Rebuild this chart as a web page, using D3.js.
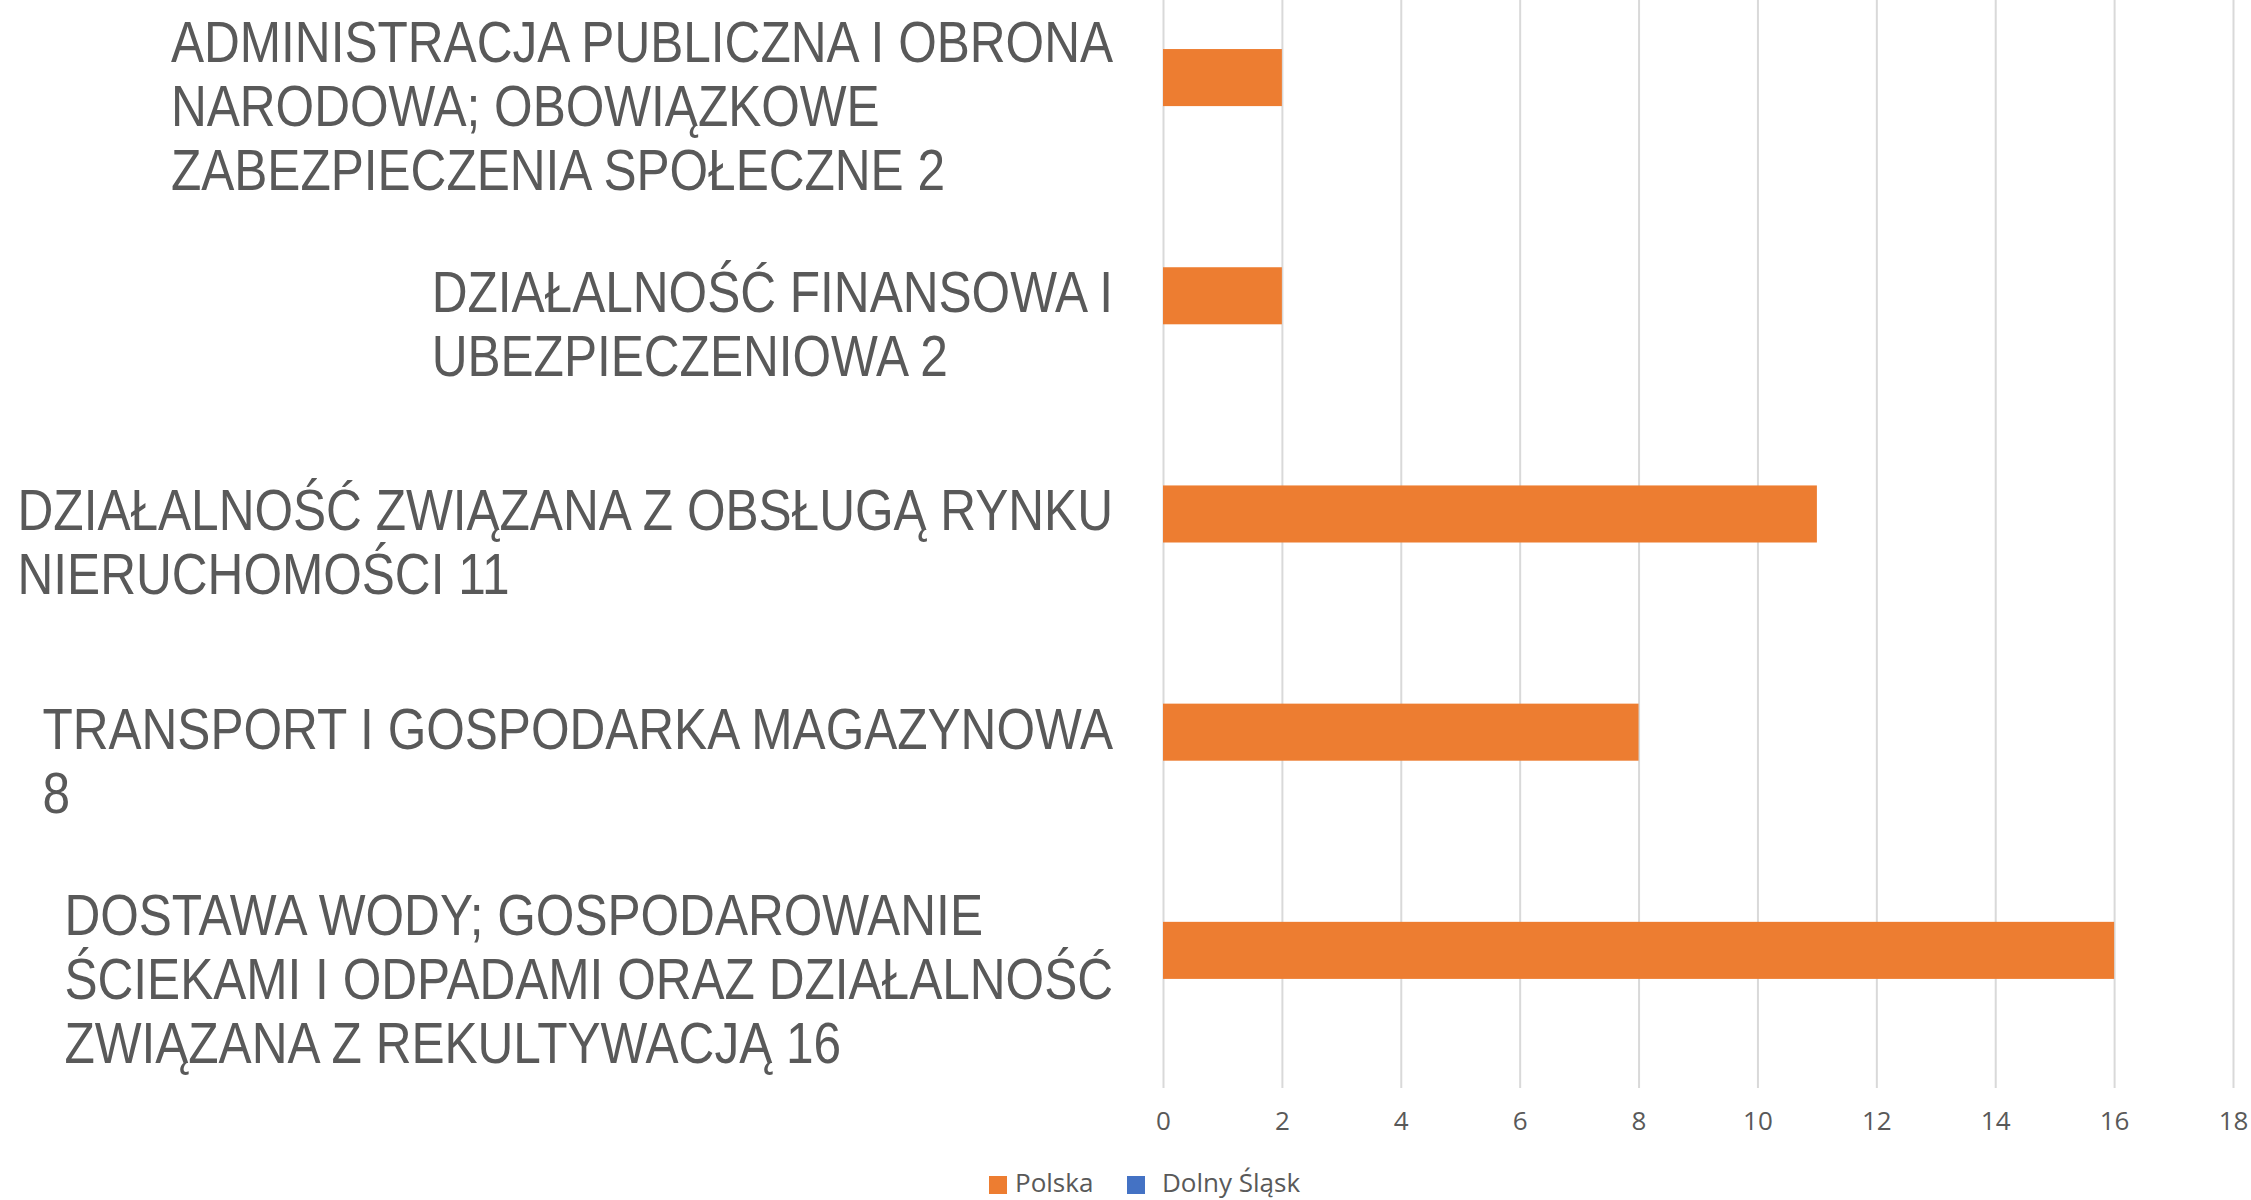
<!DOCTYPE html>
<html>
<head>
  <meta charset="utf-8">
  <title>BarChart</title>
  <script src="https://cdn.jsdelivr.net/npm/d3@7"></script>
  <style>
    body { margin: 0; background: #fff; }
  </style>
</head>
<body>
  <svg width="2251" height="1200" id="mainsvg"></svg>
  <script>
    const svg = d3.select('#mainsvg');

    // categories, top to bottom, as wrapped in the original
    const categories = [
      ['ADMINISTRACJA PUBLICZNA I OBRONA', 'NARODOWA; OBOWIĄZKOWE', 'ZABEZPIECZENIA SPOŁECZNE 2'],
      ['DZIAŁALNOŚĆ FINANSOWA I', 'UBEZPIECZENIOWA 2'],
      ['DZIAŁALNOŚĆ ZWIĄZANA Z OBSŁUGĄ RYNKU', 'NIERUCHOMOŚCI 11'],
      ['TRANSPORT I GOSPODARKA MAGAZYNOWA', '8'],
      ['DOSTAWA WODY; GOSPODAROWANIE', 'ŚCIEKAMI I ODPADAMI ORAZ DZIAŁALNOŚĆ', 'ZWIĄZANA Z REKULTYWACJĄ 16']
    ];
    const seriesNames = ['Polska', 'Dolny Śląsk'];
    const polska = [2, 2, 11, 8, 16];
    const dolnySlask = [0, 0, 0, 0, 0];
    const xTicks = [0, 2, 4, 6, 8, 10, 12, 14, 16, 18];
    const colors = ['#ED7D31', '#4472C4'];

    const plot = { left: 1163, right: 2233, top: -3, bottom: 1088 };
    const textColor = '#595959';

    const catIdx = d3.range(categories.length);
    const values = [polska, dolnySlask];

    const x = d3.scaleLinear().domain([0, 18]).range([plot.left, plot.right]);
    const y = d3.scaleBand().domain(catIdx).range([plot.top, plot.bottom])
      .paddingInner(0.477).paddingOuter(0.2385);
    const ySub = d3.scaleBand().domain(d3.range(seriesNames.length)).range([0, y.bandwidth()]);

    // gridlines + tick labels
    const axis = svg.append('g')
      .attr('transform', `translate(0,${plot.bottom})`)
      .call(d3.axisBottom(x).tickValues(xTicks).tickSize(-(plot.bottom - plot.top)).tickFormat(d3.format('d')));
    axis.select('.domain').remove();
    axis.selectAll('.tick line').attr('stroke', '#d9d9d9').attr('stroke-width', 2);
    axis.selectAll('.tick text')
      .attr('y', 33).attr('dy', '0.35em')
      .attr('fill', textColor)
      .style('font-family', '"Open Sans", sans-serif')
      .style('font-size', '26px');

    // bars
    svg.append('g').selectAll('g').data(values).join('g')
      .attr('fill', (d, i) => colors[i])
      .each(function (vals, s) {
        d3.select(this).selectAll('rect').data(vals).join('rect')
          .attr('x', x(0))
          .attr('y', (d, i) => y(i) + ySub(s))
          .attr('width', d => x(d) - x(0))
          .attr('height', ySub.bandwidth());
      });

    // category labels: block right aligned, lines left aligned, narrow face
    const lineH = 64;
    const labelRight = 1113;
    const narrow = 0.87;
    categories.forEach((lines, i) => {
      const cy = y(i) + y.bandwidth() / 2;
      const g = svg.append('g').attr('transform', `translate(${labelRight},0) scale(${narrow},1)`);
      const t = g.selectAll('text').data(lines).join('text')
        .attr('y', (d, k) => cy + (k - (lines.length - 1) / 2) * lineH + 20)
        .attr('fill', textColor)
        .style('font-family', '"Liberation Sans", Arial, sans-serif')
        .style('font-size', '57px')
        .text(d => d);
      let w = 0;
      t.each(function () { w = Math.max(w, this.getComputedTextLength()); });
      t.attr('x', -w);
    });

    // legend
    const legend = svg.append('g').attr('transform', 'translate(989,1183)');
    const legendX = [0, 138];
    seriesNames.forEach((name, i) => {
      const item = legend.append('g').attr('transform', `translate(${legendX[i]},0)`);
      item.append('rect').attr('x', 0).attr('y', -7).attr('width', 18).attr('height', 18).attr('fill', colors[i]);
      item.append('text').attr('x', 26 + (i ? 9 : 0)).attr('y', 0).attr('dy', '0.35em')
        .attr('fill', textColor)
        .style('font-family', '"Open Sans", sans-serif')
        .style('font-size', '26px')
        .text(name);
    });
  </script>
</body>
</html>
